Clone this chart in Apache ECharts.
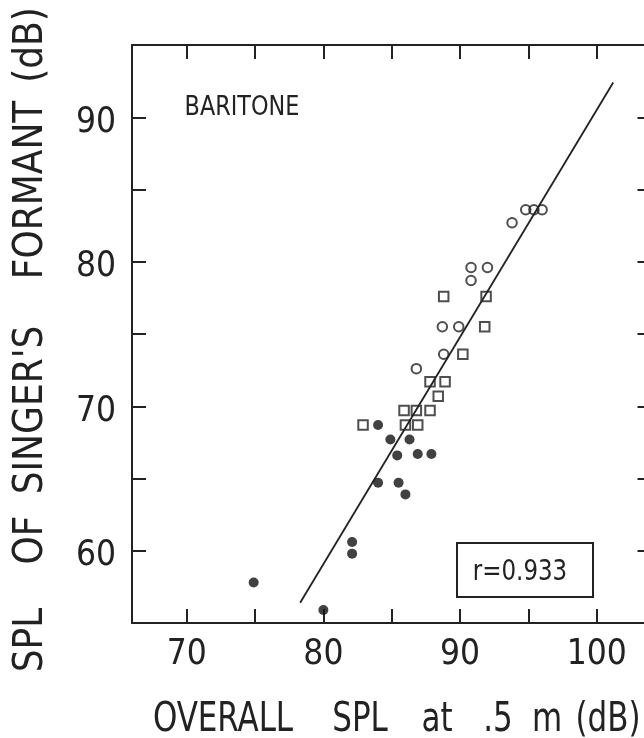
<!DOCTYPE html>
<html>
<head>
<meta charset="utf-8">
<script src="https://cdn.jsdelivr.net/npm/echarts@6/dist/echarts.min.js"></script>
<style>
html,body{margin:0;padding:0;background:#fff;}
#chart{width:644px;height:738px;}
</style>
</head>
<body>
<div id="chart"></div>
<script>
// ---- data ----
const openCircleX = [94.8, 95.4, 96.0, 93.8, 90.8, 92.0, 90.8, 88.7, 89.9, 88.8, 86.8];
const openCircleY = [83.6, 83.6, 83.6, 82.7, 79.6, 79.6, 78.7, 75.5, 75.5, 73.6, 72.6];
const squareX = [88.8, 91.9, 91.8, 90.2, 87.8, 88.9, 88.4, 85.9, 86.8, 87.8, 82.9, 86.0, 86.9];
const squareY = [77.6, 77.6, 75.5, 73.6, 71.7, 71.7, 70.7, 69.7, 69.7, 69.7, 68.7, 68.7, 68.7];
const filledX = [84.0, 84.9, 86.3, 85.4, 86.9, 87.9, 84.0, 85.5, 86.0, 82.1, 82.1, 74.9, 80.0];
const filledY = [68.7, 67.7, 67.7, 66.6, 66.7, 66.7, 64.7, 64.7, 63.9, 60.6, 59.8, 57.8, 55.9];
const fitLineX = [78.3, 101.2];
const fitLineY = [56.4, 92.4];
const xTicks = [70, 75, 80, 85, 90, 95, 100];
const xTickLabels = [70, 80, 90, 100];
const yTicks = [60, 65, 70, 75, 80, 85, 90];
const yTickLabels = [60, 70, 80, 90];
const xTitleWords = ['OVERALL', 'SPL', 'at', '.5', 'm', '(dB)'];
const yTitleWords = ['SPL', 'OF', "SINGER'S", 'FORMANT', '(dB)'];
const panelLabel = 'BARITONE';
const corrText = 'r=0.933';

// ---- styling ----
const FONT = '"Liberation Sans Narrow", "DejaVu Sans Condensed", "Liberation Sans", sans-serif';
const INK = '#222';
const zip = (a, b) => a.map((v, i) => [v, b[i]]);

const xTitlePos = [223, 360, 437, 498, 547, 608];
const yTitlePos = [640, 540, 410, 190, 45];

function axisBase(extra) {
  return Object.assign({
    type: 'value',
    axisLine: { show: true, onZero: false, lineStyle: { color: INK, width: 2 } },
    splitLine: { show: false },
  }, extra);
}
const tickStyle = { color: INK, width: 2 };

const chart = echarts.init(document.getElementById('chart'), null, { renderer: 'canvas' });

const graphics = [];
xTitleWords.forEach((w, i) => graphics.push({
  type: 'text', x: xTitlePos[i], y: 721, scaleX: 0.86,
  style: { text: w, fill: INK, font: '40px ' + FONT, align: 'center', verticalAlign: 'middle' }
}));
yTitleWords.forEach((w, i) => graphics.push({
  type: 'text', x: 32, y: yTitlePos[i], rotation: Math.PI / 2,
  style: { text: w, fill: INK, font: '40px ' + FONT, align: 'center', verticalAlign: 'middle' }
}));
graphics.push({
  type: 'text', x: 242, y: 108, scaleX: 0.92,
  style: { text: panelLabel, fill: INK, font: '27px ' + FONT, align: 'center', verticalAlign: 'middle' }
});
graphics.push({
  type: 'rect', shape: { x: 457, y: 543, width: 136, height: 54 },
  style: { fill: 'none', stroke: INK, lineWidth: 2 }
});
graphics.push({
  type: 'text', x: 520, y: 572, scaleX: 0.88,
  style: { text: corrText, fill: INK, font: '29px ' + FONT, align: 'center', verticalAlign: 'middle' }
});

const option = {
  animation: false,
  backgroundColor: '#fff',
  grid: { left: 132, top: 45, width: 519.5, height: 578, containLabel: false, outerBoundsMode: 'none' },
  xAxis: [
    axisBase({
      position: 'bottom', min: 66, max: 104,
      axisTick: { show: true, inside: true, length: 14, customValues: xTicks, lineStyle: tickStyle },
      axisLabel: { show: true, customValues: xTickLabels, margin: 14, fontSize: 35, color: INK, fontFamily: FONT }
    }),
    axisBase({
      position: 'top', min: 66, max: 104,
      axisTick: { show: true, inside: true, length: 14, customValues: xTicks, lineStyle: tickStyle },
      axisLabel: { show: false }
    })
  ],
  yAxis: [
    axisBase({
      position: 'left', min: 55, max: 95,
      axisTick: { show: true, inside: true, length: 14, customValues: yTicks, lineStyle: tickStyle },
      axisLabel: { show: true, customValues: yTickLabels, margin: 16, fontSize: 35, color: INK, fontFamily: FONT, verticalAlign: 'top', padding: [-12, 0, 0, 0] }
    }),
    axisBase({
      position: 'right', min: 55, max: 95,
      axisTick: { show: true, inside: true, length: 14, customValues: yTicks, lineStyle: tickStyle },
      axisLabel: { show: false }
    })
  ],
  series: [
    {
      type: 'line', data: zip(fitLineX, fitLineY), showSymbol: false, symbol: 'none',
      lineStyle: { color: INK, width: 1.8 }, z: 1, silent: true
    },
    {
      type: 'scatter', data: zip(openCircleX, openCircleY), symbol: 'circle', symbolSize: 9.5,
      itemStyle: { color: 'rgba(0,0,0,0)', borderColor: INK, borderWidth: 2 }, z: 2
    },
    {
      type: 'scatter', data: zip(squareX, squareY), symbol: 'rect', symbolSize: 9.5,
      itemStyle: { color: 'rgba(0,0,0,0)', borderColor: INK, borderWidth: 2 }, z: 2
    },
    {
      type: 'scatter', data: zip(filledX, filledY), symbol: 'circle', symbolSize: 10,
      itemStyle: { color: '#111', borderColor: '#111', borderWidth: 0 }, z: 3
    }
  ],
  graphic: graphics
};
chart.setOption(option);
</script>
</body>
</html>
